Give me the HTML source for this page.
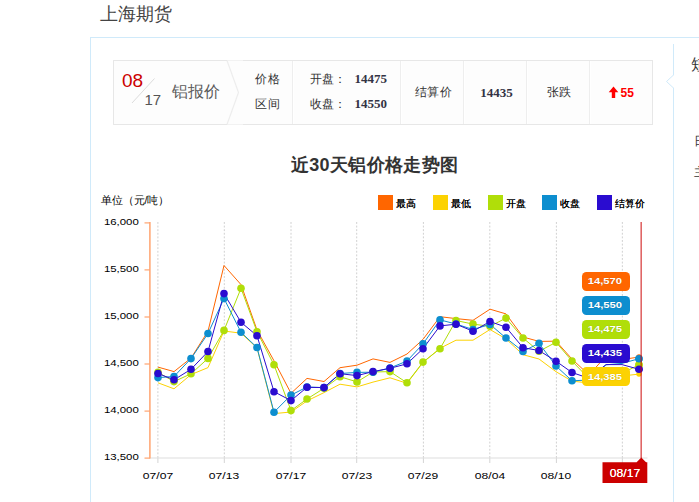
<!DOCTYPE html>
<html lang="zh"><head><meta charset="utf-8"><title>上海期货</title>
<style>
html,body{margin:0;padding:0;background:#fff;}
body{width:699px;height:502px;overflow:hidden;position:relative;font-family:"Liberation Sans",sans-serif;color:#333;}
.abs{position:absolute;}
h1{position:absolute;left:100px;top:2px;margin:0;font-size:18px;font-weight:normal;color:#444;line-height:24px;white-space:nowrap;}
.panel{position:absolute;left:90px;top:37px;width:700px;height:600px;border:1px solid #d0eafa;box-sizing:border-box;}
.vdiv{position:absolute;left:673px;top:44px;width:1px;height:500px;background:#d0eafa;}
.bar{position:absolute;left:113px;top:60px;width:540px;height:65px;box-sizing:border-box;border:1px solid #e7e7e7;background:#fdfdfd;}
.sep{position:absolute;top:61px;width:1px;height:63px;background:#eeeeee;box-shadow:1px 0 0 #fff;}
.cell{position:absolute;top:61px;height:63px;line-height:63px;text-align:center;font-size:12px;color:#333;white-space:nowrap;}
.num{font-family:"Liberation Serif",serif;font-weight:bold;font-size:13px;color:#333344;}
.yl{position:absolute;left:80px;width:58.8px;text-align:right;font-size:9.6px;line-height:14px;color:#000;transform:scaleX(1.19);transform-origin:100% 50%;}
.xl{position:absolute;top:468.9px;width:40px;text-align:center;font-size:9.6px;line-height:14px;color:#000;transform:scaleX(1.26);}
.bal{position:absolute;left:581.8px;width:47.8px;height:19px;line-height:19px;border-radius:4.5px;color:#fff;font-weight:bold;font-size:9.6px;text-align:center;text-shadow:0 0 1px rgba(0,0,0,.25);}
.bal span{display:block;position:relative;left:-0.7px;top:-0.4px;transform:scaleX(1.17);}
.lg{position:absolute;top:195px;height:15px;white-space:nowrap;}
.lg i{position:absolute;left:0;top:0;width:15px;height:15px;display:block;}
.lg span{position:absolute;left:18px;top:0.5px;font-size:10px;line-height:16px;color:#000;text-shadow:0 0 0.4px #000;}
</style></head><body>
<h1>上海期货</h1>
<div class="panel"></div>
<div class="vdiv"></div>
<svg class="abs" style="left:660px;top:70px" width="20" height="24" viewBox="0 0 20 24"><path d="M13.5,5 L6.5,11.5 L13.5,18" fill="#fff" stroke="#d0eafa" stroke-width="1"/><rect x="13" y="5.7" width="1.8" height="11.6" fill="#fff"/></svg>
<div class="abs" style="left:691px;top:55px;font-size:16px;line-height:20px;color:#333;white-space:nowrap;">短期</div>
<div class="abs" style="left:694.2px;top:132.5px;font-size:12px;line-height:16px;color:#333;white-space:nowrap;">日期</div>
<div class="abs" style="left:694.2px;top:164px;font-size:12px;line-height:16px;color:#333;white-space:nowrap;">主力</div>

<div class="bar"></div>
<svg class="abs" style="left:113px;top:60px" width="130" height="65" viewBox="0 0 130 65">
<path d="M114,0.5 L125.5,32.5 L114,64.5 L130,64.5 L130,0.5 Z" fill="#fdfdfd"/>
<path d="M0.5,0.5 L114,0.5 L125.5,32.5 L114,64.5 L0.5,64.5 Z" fill="#fdfdfd" stroke="none"/>
<path d="M114,0.5 L125.5,32.5 L114,64.5" fill="none" stroke="#ededed" stroke-width="1.2"/>
<path d="M114,0.5 L0.5,0.5 L0.5,64.5 L114,64.5" fill="none" stroke="#e7e7e7" stroke-width="1"/>
<line x1="19" y1="43" x2="41.5" y2="18.5" stroke="#dcdcdc" stroke-width="1"/>
</svg>
<div class="abs" style="left:122px;top:70px;font-size:19px;line-height:22px;color:#cc0000;">08</div>
<div class="abs" style="left:144.5px;top:91px;font-size:15px;line-height:18px;color:#555;">17</div>
<div class="abs" style="left:171.5px;top:81px;font-size:16px;line-height:22px;color:#5a5a5a;white-space:nowrap;">铝报价</div>
<div class="abs" style="left:254.5px;top:71px;font-size:12px;line-height:16px;color:#333;letter-spacing:1px;white-space:nowrap;">价格</div>
<div class="abs" style="left:254.5px;top:96px;font-size:12px;line-height:16px;color:#333;letter-spacing:1px;white-space:nowrap;">区间</div>
<div class="sep" style="left:292px"></div>
<div class="abs" style="left:310px;top:71px;font-size:12px;line-height:16px;color:#333;white-space:nowrap;">开盘：</div>
<div class="abs" style="left:310px;top:96px;font-size:12px;line-height:16px;color:#333;white-space:nowrap;">收盘：</div>
<div class="abs num" style="left:354.5px;top:71px;line-height:16px;">14475</div>
<div class="abs num" style="left:354.5px;top:96px;line-height:16px;">14550</div>
<div class="sep" style="left:400px"></div>
<div class="cell" style="left:402.7px;width:62px;letter-spacing:0.5px;">结算价</div>
<div class="sep" style="left:463px"></div>
<div class="cell num" style="left:465.6px;width:62px;">14435</div>
<div class="sep" style="left:526px"></div>
<div class="cell" style="left:528.3px;width:62px;">张跌</div>
<div class="sep" style="left:589px"></div>
<svg class="abs" style="left:608px;top:85.8px" width="11" height="13" viewBox="0 0 11 13"><path d="M5.5,0.5 L10.3,6.2 L7.2,6.2 L7.2,12 L3.8,12 L3.8,6.2 L0.7,6.2 Z" fill="#ff0000"/></svg>
<div class="abs" style="left:620.5px;top:84.8px;font-size:12px;line-height:16px;font-weight:bold;color:#ff0000;">55</div>

<div class="abs" style="left:274.6px;top:152px;width:200px;text-align:center;font-size:18px;letter-spacing:0.33px;line-height:26px;font-weight:bold;color:#333;white-space:nowrap;">近30天铝价格走势图</div>
<div class="abs" style="left:100.5px;top:193px;font-size:10.6px;line-height:14px;color:#000;white-space:nowrap;">单位（元/吨）</div>
<div class="lg" style="left:378.2px"><i style="background:#FF6600"></i><span>最高</span></div>
<div class="lg" style="left:432.9px"><i style="background:#FCD202"></i><span>最低</span></div>
<div class="lg" style="left:487.8px"><i style="background:#B0DE09"></i><span>开盘</span></div>
<div class="lg" style="left:542.2px"><i style="background:#0D8ECF"></i><span>收盘</span></div>
<div class="lg" style="left:596.9px"><i style="background:#2A0CD0"></i><span>结算价</span></div>

<svg class="abs" style="left:0;top:0" width="699" height="502" viewBox="0 0 699 502">
<line x1="157.90" y1="222" x2="157.90" y2="458" stroke="#d0d0d0" stroke-width="1" stroke-dasharray="1.9,1.7"/>
<line x1="157.90" y1="458" x2="157.90" y2="463" stroke="#d4d4d4" stroke-width="1"/>
<line x1="224.30" y1="222" x2="224.30" y2="458" stroke="#d0d0d0" stroke-width="1" stroke-dasharray="1.9,1.7"/>
<line x1="224.30" y1="458" x2="224.30" y2="463" stroke="#d4d4d4" stroke-width="1"/>
<line x1="291.00" y1="222" x2="291.00" y2="458" stroke="#d0d0d0" stroke-width="1" stroke-dasharray="1.9,1.7"/>
<line x1="291.00" y1="458" x2="291.00" y2="463" stroke="#d4d4d4" stroke-width="1"/>
<line x1="356.70" y1="222" x2="356.70" y2="458" stroke="#d0d0d0" stroke-width="1" stroke-dasharray="1.9,1.7"/>
<line x1="356.70" y1="458" x2="356.70" y2="463" stroke="#d4d4d4" stroke-width="1"/>
<line x1="423.40" y1="222" x2="423.40" y2="458" stroke="#d0d0d0" stroke-width="1" stroke-dasharray="1.9,1.7"/>
<line x1="423.40" y1="458" x2="423.40" y2="463" stroke="#d4d4d4" stroke-width="1"/>
<line x1="489.80" y1="222" x2="489.80" y2="458" stroke="#d0d0d0" stroke-width="1" stroke-dasharray="1.9,1.7"/>
<line x1="489.80" y1="458" x2="489.80" y2="463" stroke="#d4d4d4" stroke-width="1"/>
<line x1="556.40" y1="222" x2="556.40" y2="458" stroke="#d0d0d0" stroke-width="1" stroke-dasharray="1.9,1.7"/>
<line x1="556.40" y1="458" x2="556.40" y2="463" stroke="#d4d4d4" stroke-width="1"/>
<line x1="622.35" y1="222" x2="622.35" y2="458" stroke="#d0d0d0" stroke-width="1" stroke-dasharray="1.9,1.7"/>
<line x1="622.35" y1="458" x2="622.35" y2="463" stroke="#d4d4d4" stroke-width="1"/>
<line x1="150" y1="458" x2="647.5" y2="458" stroke="#dddddd" stroke-width="1.2"/>
<line x1="149.9" y1="222" x2="149.9" y2="458.5" stroke="#ffa470" stroke-width="1.5"/>
<line x1="144.5" y1="222.9" x2="150" y2="222.9" stroke="#ffa470" stroke-width="1.2"/>
<line x1="144.5" y1="269.9" x2="150" y2="269.9" stroke="#ffa470" stroke-width="1.2"/>
<line x1="144.5" y1="317.0" x2="150" y2="317.0" stroke="#ffa470" stroke-width="1.2"/>
<line x1="144.5" y1="364.0" x2="150" y2="364.0" stroke="#ffa470" stroke-width="1.2"/>
<line x1="144.5" y1="411.1" x2="150" y2="411.1" stroke="#ffa470" stroke-width="1.2"/>
<line x1="144.5" y1="458.1" x2="150" y2="458.1" stroke="#ffa470" stroke-width="1.2"/>
<path d="M158.0,367.1 L174.0,371.6 L191.0,358.1 L208.0,331.2 L224.0,265.5 L241.0,284.6 L257.0,330.0 L274.0,360.8 L291.0,393.3 L307.0,378.4 L324.0,381.5 L340.0,367.7 L357.0,365.2 L373.0,358.9 L390.0,362.4 L407.0,354.0 L423.0,339.4 L440.0,316.7 L456.0,318.6 L473.0,320.3 L490.0,309.2 L506.0,313.9 L523.0,337.0 L539.0,341.4 L556.0,341.2 L572.0,359.1 L589.0,375.0 L606.0,356.0 L622.0,359.6 L639.0,357.0" fill="none" stroke="#FF6600" stroke-width="1" stroke-linejoin="round"/>
<path d="M158.0,382.8 L174.0,388.8 L191.0,374.6 L208.0,367.6 L224.0,331.0 L241.0,333.2 L257.0,347.9 L274.0,413.6 L291.0,412.0 L307.0,400.9 L324.0,392.6 L340.0,384.2 L357.0,386.9 L373.0,382.1 L390.0,377.8 L407.0,383.3 L423.0,362.5 L440.0,348.3 L456.0,340.2 L473.0,340.2 L490.0,329.5 L506.0,338.9 L523.0,354.7 L539.0,359.0 L556.0,371.7 L572.0,381.1 L589.0,383.0 L606.0,375.0 L622.0,376.0 L639.0,374.1" fill="none" stroke="#FCD202" stroke-width="1" stroke-linejoin="round"/>
<path d="M158.0,372.3 L174.0,381.6 L191.0,373.8 L208.0,358.4 L224.0,330.4 L241.0,288.3 L257.0,331.7 L274.0,364.8 L291.0,410.6 L307.0,399.0 L324.0,388.3 L340.0,376.7 L357.0,381.9 L373.0,372.0 L390.0,371.6 L407.0,382.8 L423.0,362.1 L440.0,348.7 L456.0,320.5 L473.0,324.1 L490.0,326.3 L506.0,318.1 L523.0,338.0 L539.0,351.3 L556.0,342.3 L572.0,361.0 L589.0,378.7 L606.0,372.0 L622.0,373.2 L639.0,364.9" fill="none" stroke="#B0DE09" stroke-width="1" stroke-linejoin="round"/>
<path d="M158.0,377.6 L174.0,376.5 L191.0,358.6 L208.0,333.5 L224.0,298.5 L241.0,332.3 L257.0,347.5 L274.0,412.2 L291.0,395.1 L307.0,387.0 L324.0,387.6 L340.0,373.5 L357.0,372.4 L373.0,372.2 L390.0,368.0 L407.0,361.0 L423.0,343.9 L440.0,319.9 L456.0,324.0 L473.0,329.5 L490.0,324.4 L506.0,338.0 L523.0,351.4 L539.0,343.3 L556.0,366.0 L572.0,380.8 L589.0,380.0 L606.0,364.8 L622.0,363.4 L639.0,358.7" fill="none" stroke="#0D8ECF" stroke-width="1" stroke-linejoin="round"/>
<path d="M158.0,373.5 L174.0,379.8 L191.0,369.3 L208.0,351.5 L224.0,293.6 L241.0,322.3 L257.0,335.7 L274.0,391.7 L291.0,400.6 L307.0,387.3 L324.0,387.6 L340.0,373.7 L357.0,375.6 L373.0,371.6 L390.0,368.3 L407.0,363.8 L423.0,348.7 L440.0,325.9 L456.0,324.2 L473.0,331.2 L490.0,321.5 L506.0,327.2 L523.0,347.7 L539.0,350.5 L556.0,361.2 L572.0,372.5 L589.0,378.3 L606.0,364.6 L622.0,364.6 L639.0,369.3" fill="none" stroke="#2A0CD0" stroke-width="1" stroke-linejoin="round"/>
<circle cx="158.0" cy="372.3" r="3.8" fill="#B0DE09"/><circle cx="174.0" cy="381.6" r="3.8" fill="#B0DE09"/><circle cx="191.0" cy="373.8" r="3.8" fill="#B0DE09"/><circle cx="208.0" cy="358.4" r="3.8" fill="#B0DE09"/><circle cx="224.0" cy="330.4" r="3.8" fill="#B0DE09"/><circle cx="241.0" cy="288.3" r="3.8" fill="#B0DE09"/><circle cx="257.0" cy="331.7" r="3.8" fill="#B0DE09"/><circle cx="274.0" cy="364.8" r="3.8" fill="#B0DE09"/><circle cx="291.0" cy="410.6" r="3.8" fill="#B0DE09"/><circle cx="307.0" cy="399.0" r="3.8" fill="#B0DE09"/><circle cx="324.0" cy="388.3" r="3.8" fill="#B0DE09"/><circle cx="340.0" cy="376.7" r="3.8" fill="#B0DE09"/><circle cx="357.0" cy="381.9" r="3.8" fill="#B0DE09"/><circle cx="373.0" cy="372.0" r="3.8" fill="#B0DE09"/><circle cx="390.0" cy="371.6" r="3.8" fill="#B0DE09"/><circle cx="407.0" cy="382.8" r="3.8" fill="#B0DE09"/><circle cx="423.0" cy="362.1" r="3.8" fill="#B0DE09"/><circle cx="440.0" cy="348.7" r="3.8" fill="#B0DE09"/><circle cx="456.0" cy="320.5" r="3.8" fill="#B0DE09"/><circle cx="473.0" cy="324.1" r="3.8" fill="#B0DE09"/><circle cx="490.0" cy="326.3" r="3.8" fill="#B0DE09"/><circle cx="506.0" cy="318.1" r="3.8" fill="#B0DE09"/><circle cx="523.0" cy="338.0" r="3.8" fill="#B0DE09"/><circle cx="539.0" cy="351.3" r="3.8" fill="#B0DE09"/><circle cx="556.0" cy="342.3" r="3.8" fill="#B0DE09"/><circle cx="572.0" cy="361.0" r="3.8" fill="#B0DE09"/><circle cx="639.0" cy="364.9" r="3.8" fill="#B0DE09"/>
<circle cx="158.0" cy="377.6" r="3.8" fill="#0D8ECF"/><circle cx="174.0" cy="376.5" r="3.8" fill="#0D8ECF"/><circle cx="191.0" cy="358.6" r="3.8" fill="#0D8ECF"/><circle cx="208.0" cy="333.5" r="3.8" fill="#0D8ECF"/><circle cx="224.0" cy="298.5" r="3.8" fill="#0D8ECF"/><circle cx="241.0" cy="332.3" r="3.8" fill="#0D8ECF"/><circle cx="257.0" cy="347.5" r="3.8" fill="#0D8ECF"/><circle cx="274.0" cy="412.2" r="3.8" fill="#0D8ECF"/><circle cx="291.0" cy="395.1" r="3.8" fill="#0D8ECF"/><circle cx="307.0" cy="387.0" r="3.8" fill="#0D8ECF"/><circle cx="324.0" cy="387.6" r="3.8" fill="#0D8ECF"/><circle cx="340.0" cy="373.5" r="3.8" fill="#0D8ECF"/><circle cx="357.0" cy="372.4" r="3.8" fill="#0D8ECF"/><circle cx="373.0" cy="372.2" r="3.8" fill="#0D8ECF"/><circle cx="390.0" cy="368.0" r="3.8" fill="#0D8ECF"/><circle cx="407.0" cy="361.0" r="3.8" fill="#0D8ECF"/><circle cx="423.0" cy="343.9" r="3.8" fill="#0D8ECF"/><circle cx="440.0" cy="319.9" r="3.8" fill="#0D8ECF"/><circle cx="456.0" cy="324.0" r="3.8" fill="#0D8ECF"/><circle cx="473.0" cy="329.5" r="3.8" fill="#0D8ECF"/><circle cx="490.0" cy="324.4" r="3.8" fill="#0D8ECF"/><circle cx="506.0" cy="338.0" r="3.8" fill="#0D8ECF"/><circle cx="523.0" cy="351.4" r="3.8" fill="#0D8ECF"/><circle cx="539.0" cy="343.3" r="3.8" fill="#0D8ECF"/><circle cx="556.0" cy="366.0" r="3.8" fill="#0D8ECF"/><circle cx="572.0" cy="380.8" r="3.8" fill="#0D8ECF"/><circle cx="639.0" cy="358.7" r="3.8" fill="#0D8ECF"/>
<circle cx="158.0" cy="373.5" r="3.8" fill="#2A0CD0"/><circle cx="174.0" cy="379.8" r="3.8" fill="#2A0CD0"/><circle cx="191.0" cy="369.3" r="3.8" fill="#2A0CD0"/><circle cx="208.0" cy="351.5" r="3.8" fill="#2A0CD0"/><circle cx="224.0" cy="293.6" r="3.8" fill="#2A0CD0"/><circle cx="241.0" cy="322.3" r="3.8" fill="#2A0CD0"/><circle cx="257.0" cy="335.7" r="3.8" fill="#2A0CD0"/><circle cx="274.0" cy="391.7" r="3.8" fill="#2A0CD0"/><circle cx="291.0" cy="400.6" r="3.8" fill="#2A0CD0"/><circle cx="307.0" cy="387.3" r="3.8" fill="#2A0CD0"/><circle cx="324.0" cy="387.6" r="3.8" fill="#2A0CD0"/><circle cx="340.0" cy="373.7" r="3.8" fill="#2A0CD0"/><circle cx="357.0" cy="375.6" r="3.8" fill="#2A0CD0"/><circle cx="373.0" cy="371.6" r="3.8" fill="#2A0CD0"/><circle cx="390.0" cy="368.3" r="3.8" fill="#2A0CD0"/><circle cx="407.0" cy="363.8" r="3.8" fill="#2A0CD0"/><circle cx="423.0" cy="348.7" r="3.8" fill="#2A0CD0"/><circle cx="440.0" cy="325.9" r="3.8" fill="#2A0CD0"/><circle cx="456.0" cy="324.2" r="3.8" fill="#2A0CD0"/><circle cx="473.0" cy="331.2" r="3.8" fill="#2A0CD0"/><circle cx="490.0" cy="321.5" r="3.8" fill="#2A0CD0"/><circle cx="506.0" cy="327.2" r="3.8" fill="#2A0CD0"/><circle cx="523.0" cy="347.7" r="3.8" fill="#2A0CD0"/><circle cx="539.0" cy="350.5" r="3.8" fill="#2A0CD0"/><circle cx="556.0" cy="361.2" r="3.8" fill="#2A0CD0"/><circle cx="572.0" cy="372.5" r="3.8" fill="#2A0CD0"/><circle cx="639.0" cy="369.3" r="3.8" fill="#2A0CD0"/>
<circle cx="639.0" cy="374.1" r="2.7" fill="#FCD202"/>
<circle cx="639.0" cy="357.0" r="2.7" fill="#FF6600"/>
<circle cx="639.0" cy="364.9" r="3.7" fill="#B0DE09"/>
<circle cx="639.0" cy="369.3" r="3.7" fill="#2A0CD0"/>
<circle cx="639.0" cy="358.7" r="3.7" fill="#0D8ECF"/>
<line x1="641.2" y1="222" x2="641.2" y2="458" stroke="#cc0000" stroke-opacity="0.6" stroke-width="1.6"/>
<path d="M602.5,462.3 L636.6,462.3 L641.3,457.6 L646,462.3 L647.3,462.3 L647.3,482.9 L602.5,482.9 Z" fill="#cc0000"/>
</svg>
<div class="yl" style="top:215.1px">16,000</div>
<div class="yl" style="top:262.1px">15,500</div>
<div class="yl" style="top:309.2px">15,000</div>
<div class="yl" style="top:356.2px">14,500</div>
<div class="yl" style="top:403.3px">14,000</div>
<div class="yl" style="top:450.3px">13,500</div>
<div class="xl" style="left:137.8px">07/07</div>
<div class="xl" style="left:203.8px">07/13</div>
<div class="xl" style="left:270.8px">07/17</div>
<div class="xl" style="left:336.8px">07/23</div>
<div class="xl" style="left:402.8px">07/29</div>
<div class="xl" style="left:469.8px">08/04</div>
<div class="xl" style="left:535.8px">08/10</div>
<div class="bal" style="top:271.5px;background:#FF6600"><span>14,570</span></div>
<div class="bal" style="top:295.5px;background:#0D8ECF"><span>14,550</span></div>
<div class="bal" style="top:319.5px;background:#B0DE09"><span>14,475</span></div>
<div class="bal" style="top:343.5px;background:#2A0CD0"><span>14,435</span></div>
<div class="bal" style="top:367.0px;background:#FCD202"><span>14,385</span></div>

<div class="abs" style="left:602.8px;top:467.2px;width:44px;text-align:center;font-size:10.4px;line-height:14px;color:#fff;text-shadow:0 0 0.6px #fff;transform:scaleX(1.17);">08/17</div>
</body></html>
